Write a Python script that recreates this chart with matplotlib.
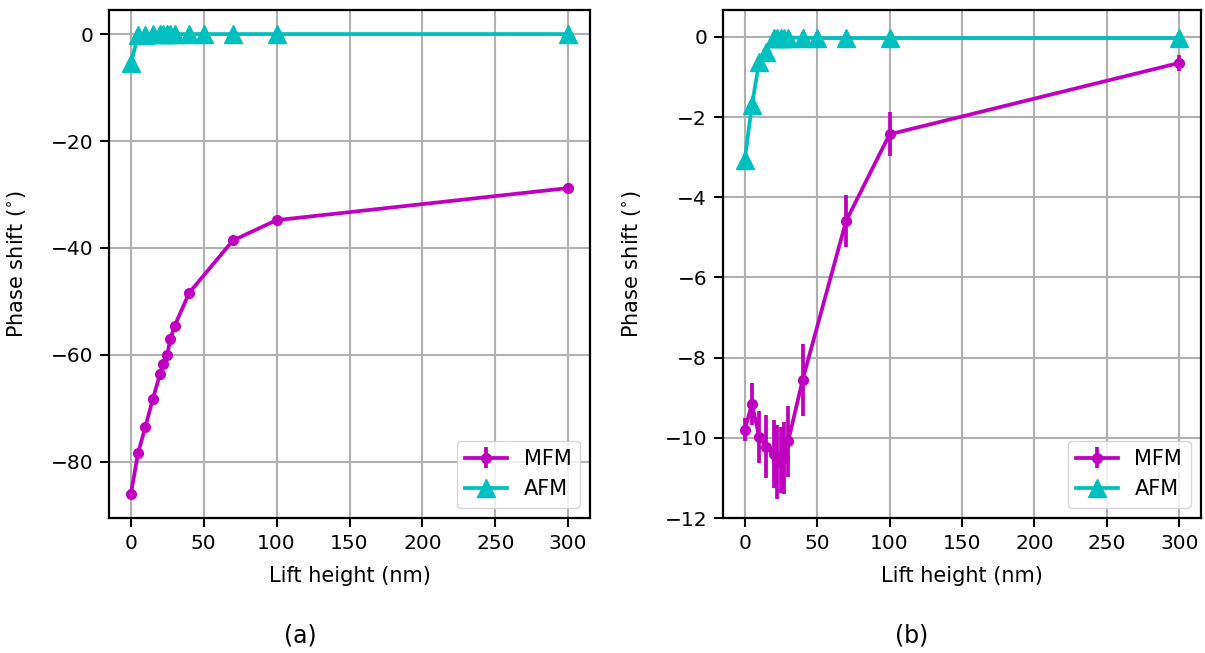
import matplotlib
matplotlib.use("Agg")
import matplotlib.pyplot as plt

# lift heights (nm)
lift_mfm = [0, 5, 10, 15, 20, 22, 25, 27, 30, 40, 70, 100, 300]
lift_afm = [0, 5, 10, 15, 20, 22, 25, 27, 30, 40, 50, 70, 100, 300]

# panel (a)
mfm_a = [-86.0, -78.3, -73.4, -68.3, -63.6, -61.7, -60.0, -57.1, -54.6, -48.4, -38.6, -34.8, -28.8]
mfm_a_err = [0.3, 0.3, 0.3, 0.3, 0.3, 0.3, 0.3, 0.3, 0.3, 0.3, 0.3, 0.3, 0.3]
afm_a = [-5.5, -0.2, -0.1, -0.05, 0.0, 0.0, 0.0, 0.0, 0.0, 0.0, 0.0, 0.0, 0.0, 0.0]

# panel (b)
mfm_b = [-9.80, -9.16, -9.98, -10.22, -10.40, -10.60, -10.55, -10.50, -10.09, -8.55, -4.59, -2.43, -0.65]
mfm_b_err = [0.29, 0.52, 0.64, 0.79, 0.85, 0.92, 0.83, 0.90, 0.89, 0.90, 0.64, 0.55, 0.20]
afm_b = [-3.07, -1.70, -0.62, -0.37, -0.03, -0.02, -0.02, -0.02, -0.02, -0.02, -0.03, -0.03, -0.03, -0.03]

fig = plt.figure(figsize=(12.05, 6.53), dpi=100)
ax_a = fig.add_axes([109 / 1205, 1 - 518 / 653, 481 / 1205, 508 / 653])
ax_b = fig.add_axes([723 / 1205, 1 - 518 / 653, 478 / 1205, 508 / 653])

panels = [
    (ax_a, mfm_a, mfm_a_err, afm_a, "(a)", 300),
    (ax_b, mfm_b, mfm_b_err, afm_b, "(b)", 912),
]

for ax, mfm, err, afm, tag, tag_x in panels:
    h1 = ax.errorbar(lift_mfm, mfm, yerr=err, color="m", marker="o", ms=7,
                     lw=2.7, elinewidth=2.7, capsize=0, label="MFM", zorder=3)
    h2, = ax.plot(lift_afm, afm, color="c", marker="^", ms=13, lw=2.7,
                  label="AFM", zorder=3)
    ax.grid(True, color="#b0b0b0", lw=1.5)
    ax.set_axisbelow(True)
    ax.set_xlabel("Lift height (nm)", fontsize=15)
    ax.set_ylabel("Phase shift ($^{\\circ}$)", fontsize=15)
    ax.xaxis.set_label_coords(0.5, -0.094)
    ax.yaxis.set_label_coords(-0.168, 0.5)
    ax.tick_params(labelsize=14.5, width=1.5, length=6.5, pad=5)
    for sp in ax.spines.values():
        sp.set_linewidth(1.6)
    ax.set_xlim(-15, 315)
    ax.legend([h1, h2], ["MFM", "AFM"], loc="lower right", fontsize=15,
              handlelength=2.0, borderaxespad=0.5)
    fig.text(tag_x / 1205, 1 - 635 / 653, tag, ha="center", va="center",
             fontsize=17)

ax_a.set_ylim(-90.5, 4.5)
ax_a.set_yticks([0, -20, -40, -60, -80])
ax_b.set_ylim(-12, 0.67)
ax_b.set_yticks([0, -2, -4, -6, -8, -10, -12])

fig.savefig("out.png", dpi=100)
